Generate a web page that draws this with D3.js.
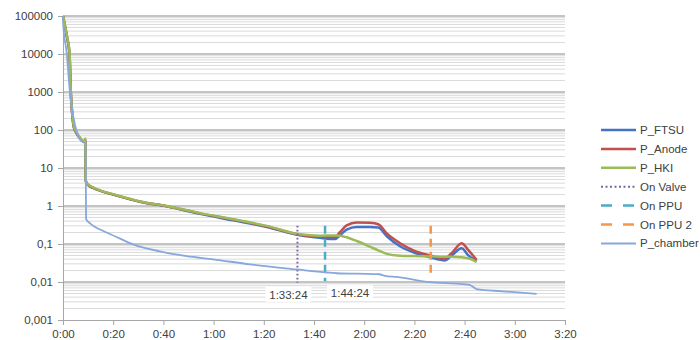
<!DOCTYPE html>
<html>
<head>
<meta charset="utf-8">
<script src="https://cdn.jsdelivr.net/npm/d3@7"></script>
<style>
  body { margin: 0; background: #fff; }
  text { font-family: "Liberation Sans", Arial, sans-serif; fill: #404040; }
</style>
</head>
<body>
<svg id="chart"></svg>
<script>

// time in minutes since start
var timeTicks  = [0, 20, 40, 60, 80, 100, 120, 140, 160, 180, 200];
var timeLabels = ["0:00", "0:20", "0:40", "1:00", "1:20", "1:40", "2:00", "2:20", "2:40", "3:00", "3:20"];
var pTicks  = [100000, 10000, 1000, 100, 10, 1, 0.1, 0.01, 0.001];
var pLabels = ["100000", "10000", "1000", "100", "10", "1", "0,1", "0,01", "0,001"];

var tDut = [0, 1.5, 2.6, 3.1, 3.6, 4.3, 5.5, 6.8, 8.6, 8.9, 9.1, 10, 12, 15, 20, 30.7, 41.3, 54.6, 67.8, 81.2,
            94.4, 102.4, 108.4, 110.4, 113, 117, 122.3, 125.6, 129, 134.3, 139.6, 146.2, 152.2, 154.9, 158.8, 161.5, 164.8];
var pFtsu  = [100000, 30000, 10000, 1000, 300, 120, 80, 60, 48, 58, 4.5, 3.6, 3.0, 2.5, 2.0, 1.3, 0.98, 0.62, 0.42, 0.28,
              0.17, 0.145, 0.135, 0.17, 0.24, 0.28, 0.28, 0.27, 0.16, 0.087, 0.06, 0.045, 0.037, 0.05, 0.077, 0.05, 0.035];
var pAnode = [100000, 30000, 10000, 1000, 300, 120, 80, 60, 48, 58, 4.5, 3.6, 3.0, 2.5, 2.0, 1.3, 0.99, 0.64, 0.44, 0.29,
              0.175, 0.155, 0.153, 0.207, 0.31, 0.37, 0.36, 0.33, 0.19, 0.105, 0.068, 0.05, 0.042, 0.058, 0.105, 0.069, 0.038];
var pHki   = [100000, 32000, 11000, 1100, 320, 130, 85, 62, 50, 60, 4.6, 3.7, 3.1, 2.55, 2.05, 1.32, 1.0, 0.65, 0.45, 0.30,
              0.18, 0.165, 0.168, 0.165, 0.15, 0.12, 0.085, 0.068, 0.055, 0.049, 0.048, 0.047, 0.046, 0.046, 0.045, 0.042, 0.034];

var tChamber = [0, 0.1, 1.5, 2.8, 4.1, 5.5, 6.8, 8.6, 9.0, 9.2, 10.8, 16.7, 20.7, 27.9, 38.6, 49.3, 59.8, 74.5, 93.1,
                105.1, 109, 123.6, 126, 128.3, 133, 146.2, 159.5, 162.2, 164.8, 175, 188.7];
var pChamber = [100000, 58000, 10500, 930, 224, 90, 55, 45, 40, 0.45, 0.35, 0.21, 0.16, 0.0975, 0.064, 0.048, 0.0396, 0.029, 0.0214,
                0.0178, 0.017, 0.0162, 0.016, 0.0145, 0.0136, 0.0099, 0.0088, 0.0083, 0.0065, 0.0057, 0.0049];

// vertical event markers
var markerNames  = ["On Valve", "On PPU", "On PPU 2"];
var markerTimes  = [93.4, 104.4, 146.5];
var markerTop    = [0.3, 0.3, 0.3];
var markerBottom = [0.0095, 0.0105, 0.015];
var markerLabels = ["1:33:24", "1:44:24", ""];

var svgWidth = 700, svgHeight = 340;
var svg = d3.select("#chart")
            .attr("width", svgWidth)
            .attr("height", svgHeight);

var xScale = d3.scaleLinear()
               .domain([0, 200])
               .range([63, 565]);
var yScale = d3.scaleLog()
               .domain([0.001, 100000])
               .range([320, 16]);

// grid: minor lines 2..9 in each decade, then majors on top
var minor = [];
for (var e = -3; e < 5; e++) {
  for (var k = 2; k <= 9; k++) minor.push(k * Math.pow(10, e));
}
svg.append("g").selectAll("line")
   .data(minor).enter().append("line")
   .attr("x1", xScale(0)).attr("x2", xScale(200))
   .attr("y1", function(d) { return yScale(d); })
   .attr("y2", function(d) { return yScale(d); })
   .attr("stroke", "#dadada")
   .attr("stroke-width", 1);
svg.append("g").selectAll("line")
   .data(pTicks.slice(0, -1)).enter().append("line")
   .attr("x1", xScale(0)).attr("x2", xScale(200))
   .attr("y1", function(d) { return yScale(d); })
   .attr("y2", function(d) { return yScale(d); })
   .attr("stroke", "#c4c4c4")
   .attr("stroke-width", 2);

// axes
var x_axis = d3.axisBottom(xScale)
               .tickValues(timeTicks)
               .tickSize(5)
               .tickPadding(5)
               .tickFormat(function(d, i) { return timeLabels[i]; });
var y_axis = d3.axisLeft(yScale)
               .tickValues(pTicks)
               .tickSize(5)
               .tickPadding(5)
               .tickFormat(function(d, i) { return pLabels[i]; });

var gx = svg.append("g")
            .attr("transform", "translate(0," + yScale(0.001) + ")")
            .call(x_axis);
var gy = svg.append("g")
            .attr("transform", "translate(" + xScale(0) + ",0)")
            .call(y_axis);
[gx, gy].forEach(function(g) {
  g.select(".domain").attr("stroke", "#a6a6a6");
  g.selectAll(".tick line").attr("stroke", "#a6a6a6");
  g.selectAll(".tick text")
   .style("font-family", "Liberation Sans, Arial, sans-serif")
   .style("font-size", "11.5px")
   .attr("fill", "#404040");
});

var lineGenerator = d3.line()
  .x(function(d) { return xScale(d[0]); })
  .y(function(d) { return yScale(d[1]); })
  .curve(d3.curveMonotoneX);

function drawSeries(times, values, color, width) {
  svg.append("path")
     .attr("d", lineGenerator(times.map(function(t, i) { return [t, values[i]]; })))
     .attr("fill", "none")
     .attr("stroke", color)
     .attr("stroke-width", width)
     .attr("stroke-linejoin", "round");
}

var colors = {
  ftsu: "#4472c4", anode: "#c0504d", hki: "#9bbb59",
  valve: "#8064a2", ppu: "#4bacc6", ppu2: "#f79646", chamber: "#86a8dc"
};
var markerColors = [colors.valve, colors.ppu, colors.ppu2];
var markerDash = ["1.6,2.4", "8,5", "8,5"];

drawSeries(tDut, pFtsu, colors.ftsu, 2.5);
drawSeries(tDut, pAnode, colors.anode, 2.5);
drawSeries(tDut, pHki, colors.hki, 2.5);

markerTimes.forEach(function(t, i) {
  svg.append("line")
     .attr("x1", xScale(t)).attr("x2", xScale(t))
     .attr("y1", yScale(markerTop[i])).attr("y2", yScale(markerBottom[i]))
     .attr("stroke", markerColors[i])
     .attr("stroke-width", i == 0 ? 2 : 2.5)
     .attr("stroke-dasharray", markerDash[i]);
});

drawSeries(tChamber, pChamber, colors.chamber, 1.8);

// data labels under the first two markers
var labelShift = [-9, 25];
markerLabels.forEach(function(txt, i) {
  if (!txt) return;
  var cx = xScale(markerTimes[i]) + labelShift[i];
  var cy = yScale(markerBottom[i]) + 12;
  svg.append("rect")
     .attr("x", cx - 23).attr("y", cy - 8)
     .attr("width", 46).attr("height", 15)
     .attr("fill", "#fff");
  svg.append("text")
     .attr("x", cx).attr("y", cy + 4)
     .attr("text-anchor", "middle")
     .style("font-size", "11.5px")
     .text(txt);
});

// legend
var legendItems = [
  {name: "P_FTSU", color: colors.ftsu, dash: null, w: 2.5},
  {name: "P_Anode", color: colors.anode, dash: null, w: 2.5},
  {name: "P_HKI", color: colors.hki, dash: null, w: 2.5},
  {name: "On Valve", color: colors.valve, dash: "2,2.5", w: 2},
  {name: "On PPU", color: colors.ppu, dash: "11,11", w: 2.5},
  {name: "On PPU 2", color: colors.ppu2, dash: "11,11", w: 2.5},
  {name: "P_chamber", color: colors.chamber, dash: null, w: 2}
];
var legend = svg.append("g").attr("transform", "translate(601,130)");
legendItems.forEach(function(d, i) {
  var yy = i * 18.9;
  legend.append("line")
        .attr("x1", 0).attr("x2", 35)
        .attr("y1", yy).attr("y2", yy)
        .attr("stroke", d.color)
        .attr("stroke-width", d.w)
        .attr("stroke-dasharray", d.dash);
  legend.append("text")
        .attr("x", 39).attr("y", yy + 4)
        .style("font-size", "11.5px")
        .text(d.name);
});

</script>
</body>
</html>
